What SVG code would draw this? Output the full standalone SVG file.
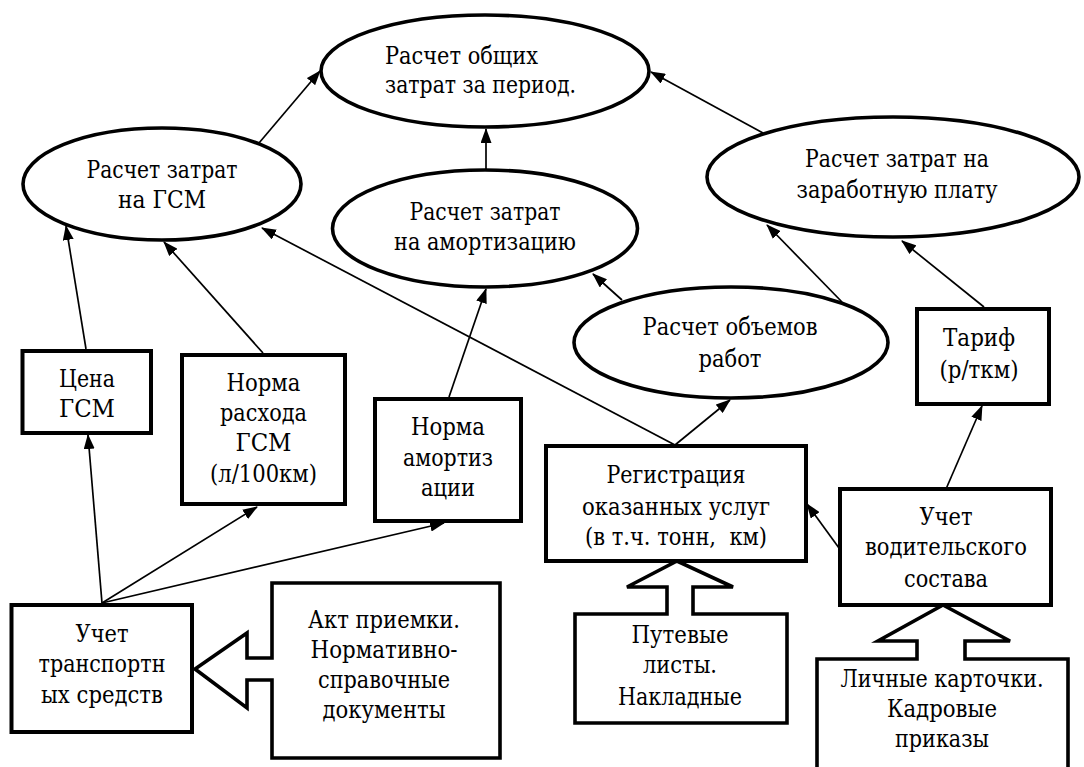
<svg xmlns="http://www.w3.org/2000/svg" width="1084" height="767" viewBox="0 0 1084 767">
<style>
.shape{fill:#fff;stroke:#000;stroke-width:4}
.ell{fill:#fff;stroke:#000;stroke-width:3.6}
.blk{fill:#fff;stroke:#000;stroke-width:3.6;stroke-linejoin:miter}
text{font-family:'DejaVu Serif','Liberation Serif',serif;font-size:24px;fill:#000}
.t{text-anchor:middle}
.ts{text-anchor:start}
.c line{stroke:#000;stroke-width:1.7;marker-end:url(#ah)}
</style>
<defs>
<marker id="ah" viewBox="0 0 15 11" refX="14" refY="5.5" markerWidth="15" markerHeight="11" markerUnits="userSpaceOnUse" orient="auto">
<path d="M0,0 L15,5.5 L0,11 z" fill="#000"/>
</marker>
</defs>
<rect width="1084" height="767" fill="#fff"/>

<g class="c" id="connectors">
<line x1="259" y1="143" x2="320" y2="71"/>
<line x1="486" y1="170" x2="486" y2="129"/>
<line x1="763" y1="133" x2="651" y2="72"/>
<line x1="86" y1="349" x2="66" y2="226"/>
<line x1="263" y1="353" x2="164" y2="242"/>
<line x1="675" y1="445" x2="262" y2="228"/>
<line x1="449" y1="397" x2="486" y2="289"/>
<line x1="102" y1="603" x2="88" y2="435"/>
<line x1="102" y1="603" x2="257" y2="507"/>
<line x1="102" y1="603" x2="444" y2="523"/>
<line x1="675" y1="445" x2="730" y2="400"/>
<line x1="622" y1="300" x2="593" y2="274"/>
<line x1="842" y1="302" x2="767" y2="225"/>
<line x1="984" y1="307" x2="902" y2="241"/>
<line x1="946" y1="489" x2="982" y2="406"/>
<line x1="839" y1="548" x2="807" y2="504"/>
</g>

<g id="n-total">
<ellipse class="ell" cx="485" cy="71" rx="164" ry="56"/>
<text class="ts" x="385" y="64" textLength="153" lengthAdjust="spacingAndGlyphs">Расчет общих</text>
<text class="ts" x="385" y="93" textLength="191" lengthAdjust="spacingAndGlyphs">затрат за период.</text>
</g>

<g id="n-gsm">
<ellipse class="ell" cx="162" cy="184" rx="139" ry="56"/>
<text class="t" x="162" y="178" textLength="151" lengthAdjust="spacingAndGlyphs">Расчет затрат</text>
<text class="t" x="162" y="208" textLength="88" lengthAdjust="spacingAndGlyphs">на ГСМ</text>
</g>

<g id="n-amort">
<ellipse class="ell" cx="485" cy="228.5" rx="152.5" ry="58.5"/>
<text class="t" x="485" y="220" textLength="151" lengthAdjust="spacingAndGlyphs">Расчет затрат</text>
<text class="t" x="485" y="250" textLength="182" lengthAdjust="spacingAndGlyphs">на амортизацию</text>
</g>

<g id="n-salary">
<ellipse class="ell" cx="893" cy="177" rx="186" ry="60"/>
<text class="t" x="897" y="167" textLength="184" lengthAdjust="spacingAndGlyphs">Расчет затрат на</text>
<text class="t" x="897" y="198" textLength="201" lengthAdjust="spacingAndGlyphs">заработную плату</text>
</g>

<g id="n-volume">
<ellipse class="ell" cx="731" cy="342.5" rx="157" ry="55.5"/>
<text class="t" x="730" y="335" textLength="175" lengthAdjust="spacingAndGlyphs">Расчет объемов</text>
<text class="t" x="730" y="367" textLength="63" lengthAdjust="spacingAndGlyphs">работ</text>
</g>

<g id="n-price">
<rect class="shape" x="22.5" y="351" width="128.5" height="82"/>
<text class="t" x="87" y="387" textLength="56" lengthAdjust="spacingAndGlyphs">Цена</text>
<text class="t" x="87" y="417" textLength="56" lengthAdjust="spacingAndGlyphs">ГСМ</text>
</g>

<g id="n-fuelnorm">
<rect class="shape" x="182" y="355" width="163" height="149"/>
<text class="t" x="263.5" y="391" textLength="74" lengthAdjust="spacingAndGlyphs">Норма</text>
<text class="t" x="263.5" y="421" textLength="87" lengthAdjust="spacingAndGlyphs">расхода</text>
<text class="t" x="263.5" y="451" textLength="56" lengthAdjust="spacingAndGlyphs">ГСМ</text>
<text class="t" x="263.5" y="482" textLength="107" lengthAdjust="spacingAndGlyphs">(л/100км)</text>
</g>

<g id="n-amortnorm">
<rect class="shape" x="375" y="399" width="146" height="122"/>
<text class="t" x="448" y="435" textLength="74" lengthAdjust="spacingAndGlyphs">Норма</text>
<text class="t" x="448" y="466" textLength="90" lengthAdjust="spacingAndGlyphs">амортиз</text>
<text class="t" x="448" y="496" textLength="54" lengthAdjust="spacingAndGlyphs">ации</text>
</g>

<g id="n-vehicles">
<rect class="shape" x="11.5" y="605" width="180.5" height="127"/>
<text class="t" x="102" y="642" textLength="53" lengthAdjust="spacingAndGlyphs">Учет</text>
<text class="t" x="102" y="672" textLength="127" lengthAdjust="spacingAndGlyphs">транспортн</text>
<text class="t" x="102" y="703" textLength="122" lengthAdjust="spacingAndGlyphs">ых средств</text>
</g>

<g id="n-acts">
<polygon class="blk" points="272,583 500,583 500,758 272,758 272,680 247,680 247,708 195,669 247,633 247,658 272,658"/>
<text class="t" x="384" y="628" textLength="152" lengthAdjust="spacingAndGlyphs">Акт приемки.</text>
<text class="t" x="384" y="658" textLength="147" lengthAdjust="spacingAndGlyphs">Нормативно-</text>
<text class="t" x="384" y="688" textLength="132" lengthAdjust="spacingAndGlyphs">справочные</text>
<text class="t" x="384" y="718" textLength="123" lengthAdjust="spacingAndGlyphs">документы</text>
</g>

<g id="n-register">
<rect class="shape" x="546" y="446" width="260" height="115"/>
<text class="t" x="676" y="483" textLength="139" lengthAdjust="spacingAndGlyphs">Регистрация</text>
<text class="t" x="676" y="515" textLength="188" lengthAdjust="spacingAndGlyphs">оказанных услуг</text>
<text class="t" x="676" y="545" textLength="182" lengthAdjust="spacingAndGlyphs">(в т.ч. тонн,&#160; км)</text>
</g>

<g id="n-waybills">
<polygon class="blk" points="575,614 667,614 667,587 627,587 677,561 733,587 693,587 693,614 787,614 787,723 575,723"/>
<text class="t" x="680" y="643" textLength="97" lengthAdjust="spacingAndGlyphs">Путевые</text>
<text class="t" x="680" y="673" textLength="74" lengthAdjust="spacingAndGlyphs">листы.</text>
<text class="t" x="680" y="705" textLength="124" lengthAdjust="spacingAndGlyphs">Накладные</text>
</g>

<g id="n-tariff">
<rect class="shape" x="917" y="309" width="132" height="95"/>
<text class="t" x="979" y="346" textLength="72" lengthAdjust="spacingAndGlyphs">Тариф</text>
<text class="t" x="979" y="378" textLength="79" lengthAdjust="spacingAndGlyphs">(р/ткм)</text>
</g>

<g id="n-drivers">
<rect class="shape" x="840" y="489" width="211" height="116"/>
<text class="t" x="946" y="525" textLength="53" lengthAdjust="spacingAndGlyphs">Учет</text>
<text class="t" x="946" y="555" textLength="162" lengthAdjust="spacingAndGlyphs">водительского</text>
<text class="t" x="946" y="587" textLength="84" lengthAdjust="spacingAndGlyphs">состава</text>
</g>

<g id="n-personnel">
<polygon class="blk" points="817,659 917,659 917,641 878,641 943,605 1010,641 965,641 965,659 1068,659 1068,790 817,790"/>
<text class="t" x="942" y="687" textLength="203" lengthAdjust="spacingAndGlyphs">Личные карточки.</text>
<text class="t" x="942" y="717" textLength="110" lengthAdjust="spacingAndGlyphs">Кадровые</text>
<text class="t" x="942" y="747" textLength="94" lengthAdjust="spacingAndGlyphs">приказы</text>
</g>
</svg>
